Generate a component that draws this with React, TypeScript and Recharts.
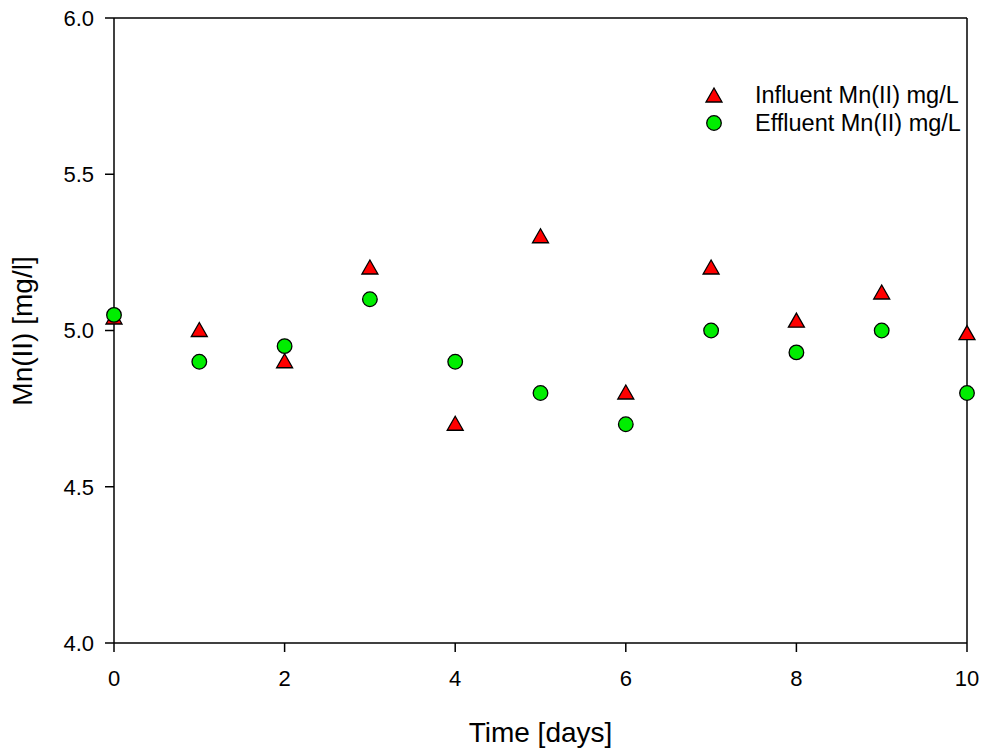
import React from 'react'
import { ScatterChart, Scatter, XAxis, YAxis, ReferenceLine, Legend, Label } from 'recharts'

// 时间轴（天）与两组 Mn(II) 浓度
const days = [0, 1, 2, 3, 4, 5, 6, 7, 8, 9, 10]
const influent = [5.04, 5.0, 4.9, 5.2, 4.7, 5.3, 4.8, 5.2, 5.03, 5.12, 4.99]
const effluent = [5.05, 4.9, 4.95, 5.1, 4.9, 4.8, 4.7, 5.0, 4.93, 5.0, 4.8]
const xTicks = [0, 2, 4, 6, 8, 10]
const yTicks = [4.0, 4.5, 5.0, 5.5, 6.0]
const seriesNames = ['Influent Mn(II) mg/L', 'Effluent Mn(II) mg/L']

const FONT = '"Liberation Sans", Arial, sans-serif'

const influentData = days.map((d, i) => ({ x: d, y: influent[i] }))
const effluentData = days.map((d, i) => ({ x: d, y: effluent[i] }))

const Triangle = (props: any) => {
  const { cx, cy } = props
  if (cx == null || cy == null) return null
  return (
    <polygon
      points={`${cx},${cy - 8} ${cx - 8},${cy + 6} ${cx + 8},${cy + 6}`}
      fill="#ff0000"
      stroke="#000"
      strokeWidth={1.3}
    />
  )
}

const Dot = (props: any) => {
  const { cx, cy } = props
  if (cx == null || cy == null) return null
  return <circle cx={cx} cy={cy} r={7.3} fill="#00ee00" stroke="#000" strokeWidth={1.3} />
}

const LegendBox = () => (
  <div style={{ fontFamily: FONT, fontSize: 23.5, color: '#000' }}>
    {seriesNames.map((name, i) => (
      <div key={name} style={{ display: 'flex', alignItems: 'center', height: 28 }}>
        <svg width={40} height={28} style={{ marginRight: 15 }}>
          {i === 0 ? <Triangle cx={14} cy={15} /> : <Dot cx={14} cy={14} />}
        </svg>
        <span style={{ lineHeight: '28px' }}>{name}</span>
      </div>
    ))}
  </div>
)

export default function App() {
  return (
    <div style={{ position: 'absolute', left: 0, top: 0, width: 986, height: 753, background: '#fff' }}>
      <ScatterChart width={986} height={753} margin={{ top: 18, right: 19, bottom: 0, left: 0 }}>
        <XAxis
          type="number"
          dataKey="x"
          domain={[0, 10]}
          ticks={xTicks}
          height={110}
          tickSize={9}
          tickMargin={18}
          stroke="#000"
          strokeWidth={1.5}
          tick={{ fill: '#000', fontSize: 22, fontFamily: FONT }}
        >
          <Label
            value="Time [days]"
            position="insideBottom"
            offset={11}
            style={{ fontSize: 28, fontFamily: FONT, fill: '#000' }}
          />
        </XAxis>
        <YAxis
          type="number"
          dataKey="y"
          domain={[4, 6]}
          ticks={yTicks}
          width={114}
          tickSize={9}
          tickMargin={11}
          stroke="#000"
          strokeWidth={1.5}
          tickFormatter={(v: number) => v.toFixed(1)}
          tick={{ fill: '#000', fontSize: 22, fontFamily: FONT }}
        >
          <Label
            content={() => (
              <text
                transform="translate(32,331) rotate(-90)"
                textAnchor="middle"
                style={{ fontSize: 28, fontFamily: FONT, fill: '#000' }}
              >
                Mn(II) [mg/l]
              </text>
            )}
          />
        </YAxis>
        <ReferenceLine y={6} stroke="#000" strokeWidth={1.5} />
        <ReferenceLine x={10} stroke="#000" strokeWidth={1.5} />
        <Legend
          layout="horizontal"
          verticalAlign="middle"
          content={() => <LegendBox />}
          wrapperStyle={{ top: 81, left: 700, width: 286 }}
        />
        <Scatter name={seriesNames[0]} data={influentData} shape={<Triangle />} isAnimationActive={false} />
        <Scatter name={seriesNames[1]} data={effluentData} shape={<Dot />} isAnimationActive={false} />
      </ScatterChart>
    </div>
  )
}
